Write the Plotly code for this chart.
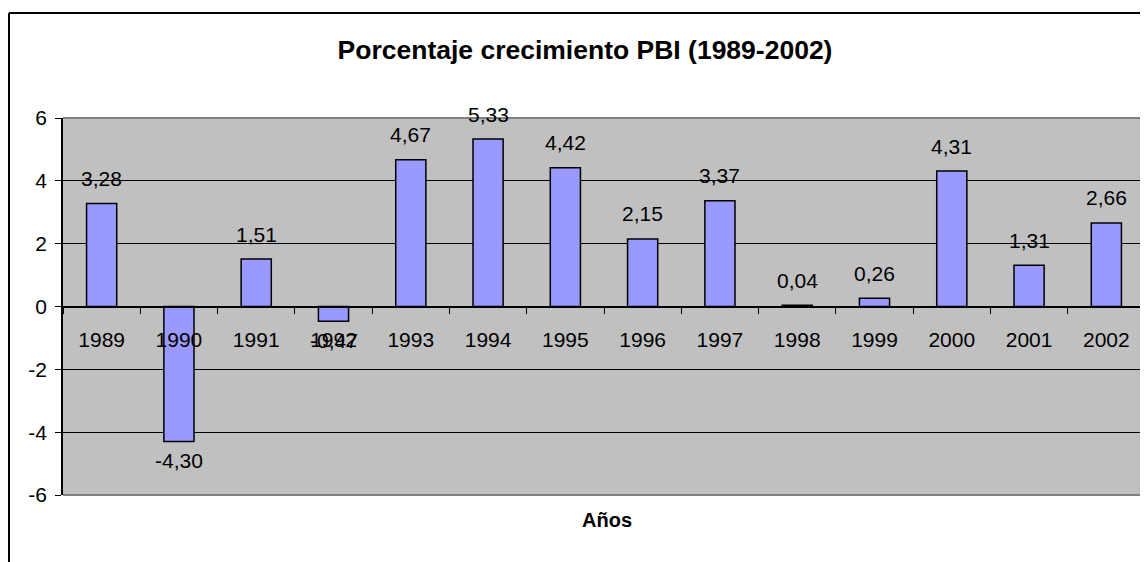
import plotly.graph_objects as go

# datos
anios = ['1989', '1990', '1991', '1992', '1993', '1994', '1995',
         '1996', '1997', '1998', '1999', '2000', '2001', '2002']
crecimiento = [3.28, -4.30, 1.51, -0.47, 4.67, 5.33, 4.42,
               2.15, 3.37, 0.04, 0.26, 4.31, 1.31, 2.66]
y_ticks = [-6, -4, -2, 0, 2, 4, 6]

FONT = "Arial, Liberation Sans, sans-serif"

# la página tiene 8px de margen en el body: todo en coordenadas de página
OFF = 8
W, H = 1148 - OFF, 562 - OFF
L, R, T, B = 63 - OFF, 3, 118 - OFF, 67
pw, ph = W - L - R, H - T - B


def px_x(x):
    return (x - OFF - L) / pw


def px_y(y):
    return (H - B - (y - OFF)) / ph


fig = go.Figure(go.Bar(
    x=anios, y=crecimiento,
    marker=dict(color='#9999FF', line=dict(color='black', width=1.5)),
    hoverinfo='x+y',
))

# etiquetas de datos (formato con coma decimal); x como índice de categoría
for i, v in enumerate(crecimiento):
    fig.add_annotation(
        x=i, y=v, xref='x', yref='y',
        text=f"{v:.2f}".replace('.', ','),
        showarrow=False, yshift=25 if v >= 0 else -19,
        font=dict(family=FONT, size=21, color='black'),
    )

fig.add_annotation(
    text="<b>Años</b>", xref='paper', yref='paper',
    x=px_x(607), y=px_y(533), showarrow=False,
    font=dict(family=FONT, size=20, color='black'),
)

# borde del área de trazado (gris) y marco exterior (negro)
for x0, y0, x1, y1 in [(0, 1, 1, 1), (1, 0, 1, 1), (0, 0, 1, 0)]:
    fig.add_shape(type='line', xref='paper', yref='paper',
                  x0=x0, y0=y0, x1=x1, y1=y1, layer='above',
                  line=dict(color='#808080', width=2))
fig.add_shape(type='line', xref='paper', yref='paper',
              x0=px_x(9), y0=px_y(13), x1=px_x(1160), y1=px_y(13),
              line=dict(color='black', width=2))
fig.add_shape(type='line', xref='paper', yref='paper',
              x0=px_x(9), y0=px_y(13), x1=px_x(9), y1=px_y(580),
              line=dict(color='black', width=2))

fig.update_layout(
    width=W, height=H,
    margin=dict(l=L, r=R, t=T, b=B, autoexpand=False),
    paper_bgcolor='white', plot_bgcolor='#C0C0C0',
    showlegend=False,
    bargap=0.61,
    font=dict(family=FONT, size=21, color='black'),
    title=dict(text="<b>Porcentaje crecimiento PBI (1989-2002)</b>",
               xref='paper', yref='container', x=px_x(585),
               y=1 - (50 - OFF) / H,
               xanchor='center', yanchor='middle',
               font=dict(family=FONT, size=26.5, color='black')),
    xaxis=dict(
        type='category', anchor='free', position=0.5,
        range=[-0.5, len(anios) - 0.5], automargin=False,
        showline=True, linecolor='black', linewidth=1,
        ticks='outside', tickson='boundaries', ticklen=6, tickcolor='black',
        ticklabelstandoff=14, showgrid=False, zeroline=False, tickangle=0,
        tickfont=dict(family=FONT, size=21, color='black'),
    ),
    yaxis=dict(
        range=[-6, 6], tickvals=y_ticks, ticktext=[str(t) for t in y_ticks],
        automargin=False,
        showline=True, linecolor='black', linewidth=1.5,
        ticks='outside', ticklen=6, tickcolor='black',
        showgrid=True, gridcolor='black', gridwidth=1,
        zeroline=False, ticklabelstandoff=4,
        tickfont=dict(family=FONT, size=21, color='black'),
    ),
)

fig.write_html("out.html")
